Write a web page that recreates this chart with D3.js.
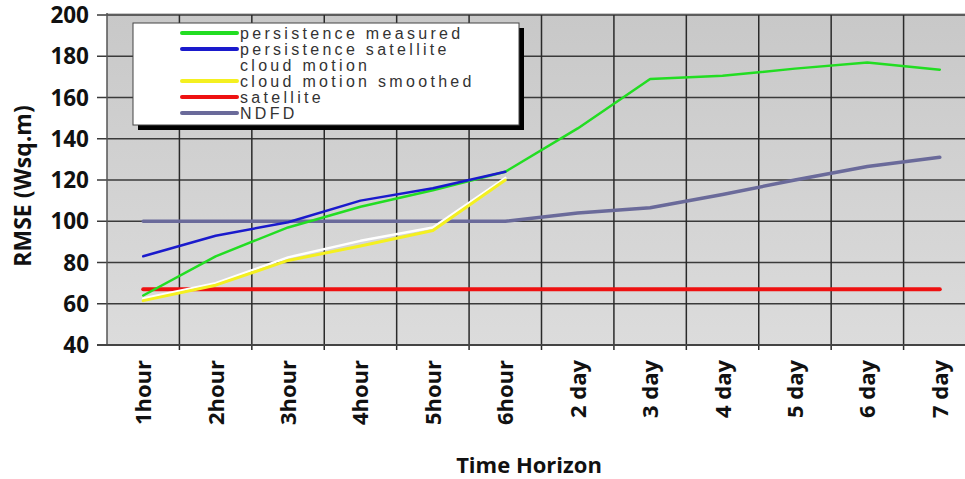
<!DOCTYPE html>
<html>
<head>
<meta charset="utf-8">
<script src="https://cdn.jsdelivr.net/npm/d3@7/dist/d3.min.js"></script>
<style>
  body { margin: 0; background: #fff; }
  svg { display: block; }
</style>
</head>
<body>
<script>
/* -----------------------------------------------------
 *  Data
 ----------------------------------------------------- */
const horizons = ["1hour", "2hour", "3hour", "4hour", "5hour", "6hour",
  "2 day", "3 day", "4 day", "5 day", "6 day", "7 day"];
const yTicks = [40, 60, 80, 100, 120, 140, 160, 180, 200];

const persistenceMeasured = [64, 83, 97, 107, 115, 124, 145, 169, 170.5, 174, 177, 173.5];
const persistenceSatellite = [83, 93, 99.5, 110, 116, 124];
const cloudMotion = [62.5, 70, 82.5, 90.5, 97, 121];
const cloudMotionSmoothed = [61.5, 69, 81, 88, 95.5, 120];
const satellite = [67, 67, 67, 67, 67, 67, 67, 67, 67, 67, 67, 67];
const ndfd = [100, 100, 100, 100, 100, 100, 104, 106.5, 113, 120, 126.5, 131];

const series = [
  { name: "persistence measured", values: persistenceMeasured, color: "#22dd22", width: 2.5 },
  { name: "persistence satellite", values: persistenceSatellite, color: "#1a1acc", width: 2.5 },
  { name: "cloud motion", values: cloudMotion, color: "#ffffff", width: 2.5 },
  { name: "cloud motion smoothed", values: cloudMotionSmoothed, color: "#f4f020", width: 3 },
  { name: "satellite", values: satellite, color: "#ee1111", width: 4 },
  { name: "NDFD", values: ndfd, color: "#6a6a9a", width: 3.5 }
];
// drawing order (back to front)
const drawOrder = ["NDFD", "satellite", "cloud motion", "cloud motion smoothed",
  "persistence measured", "persistence satellite"];

/* -----------------------------------------------------
 *  SVG setup
 ----------------------------------------------------- */
const width = 965;
const height = 479;
const margin = { top: 15, right: -11, bottom: 134, left: 107 };

const svg = d3.select("body").append("svg")
  .attr("width", width)
  .attr("height", height);

const x = d3.scaleBand()
  .domain(horizons)
  .range([margin.left, width - margin.right]);

const y = d3.scaleLinear()
  .domain([40, 200])
  .range([height - margin.bottom, margin.top]);

const defs = svg.append("defs");
const grad = defs.append("linearGradient")
  .attr("id", "bg").attr("x1", 0).attr("y1", 0).attr("x2", 0).attr("y2", 1);
grad.append("stop").attr("offset", "0%").attr("stop-color", "#c8c8c8");
grad.append("stop").attr("offset", "100%").attr("stop-color", "#dcdcdc");

// plot background
svg.append("rect")
  .attr("x", x.range()[0])
  .attr("y", y(200) - 2)
  .attr("width", x.range()[1] - x.range()[0])
  .attr("height", y(40) - y(200) + 2)
  .attr("fill", "url(#bg)");

/* -----------------------------------------------------
 *  Grid + axes
 ----------------------------------------------------- */
svg.append("g")
  .selectAll("line")
  .data(yTicks)
  .join("line")
  .attr("x1", x.range()[0] - 10)
  .attr("x2", x.range()[1])
  .attr("y1", (d) => y(d))
  .attr("y2", (d) => y(d))
  .attr("stroke", "#3a3a3a")
  .attr("stroke-width", 1.5);

// vertical grid at band boundaries
svg.append("g")
  .selectAll("line")
  .data(horizons.slice(1))
  .join("line")
  .attr("x1", (d) => x(d))
  .attr("x2", (d) => x(d))
  .attr("y1", y(200))
  .attr("y2", y(40) + 5)
  .attr("stroke", "#2a2a2a")
  .attr("stroke-width", 1.5);

// left axis line
svg.append("line")
  .attr("x1", x.range()[0]).attr("x2", x.range()[0])
  .attr("y1", y(200) - 2).attr("y2", y(40))
  .attr("stroke", "#555").attr("stroke-width", 1.5);

// bottom axis line
svg.append("line")
  .attr("x1", x.range()[0] - 10).attr("x2", x.range()[1])
  .attr("y1", y(40)).attr("y2", y(40))
  .attr("stroke", "#444").attr("stroke-width", 2);

// y tick labels
svg.append("g")
  .selectAll("text")
  .data(yTicks)
  .join("text")
  .attr("x", 89)
  .attr("y", (d) => y(d))
  .attr("dy", "0.36em")
  .attr("text-anchor", "end")
  .style("font-family", "Open Sans")
  .style("font-weight", "bold")
  .style("font-size", "22.5px")
  .attr("fill", "#111")
  .text((d) => d);

// x tick labels (rotated)
svg.append("g")
  .selectAll("text")
  .data(horizons)
  .join("text")
  .attr("transform", (d) => `translate(${x(d) + x.bandwidth() / 2 + 8},360) rotate(-90)`)
  .attr("text-anchor", "end")
  .style("font-family", "Open Sans")
  .style("font-weight", "bold")
  .style("font-size", "22px")
  .attr("fill", "#111")
  .text((d) => d);

// axis titles
svg.append("text")
  .attr("x", 529)
  .attr("y", 473)
  .attr("text-anchor", "middle")
  .style("font-family", "Open Sans")
  .style("font-weight", "bold")
  .style("font-size", "22px")
  .attr("fill", "#111")
  .text("Time Horizon");

svg.append("text")
  .attr("transform", "translate(31,186) rotate(-90)")
  .attr("text-anchor", "middle")
  .style("font-family", "Open Sans")
  .style("font-weight", "bold")
  .style("font-size", "23px")
  .attr("fill", "#111")
  .text("RMSE (Wsq.m)");

/* -----------------------------------------------------
 *  Lines
 ----------------------------------------------------- */
const line = d3.line()
  .x((d, i) => x(horizons[i]) + x.bandwidth() / 2)
  .y((d) => y(d));

drawOrder.forEach((name) => {
  const s = series.find((d) => d.name === name);
  svg.append("path")
    .datum(s.values)
    .attr("fill", "none")
    .attr("stroke", s.color)
    .attr("stroke-width", s.width)
    .attr("stroke-linejoin", "round")
    .attr("stroke-linecap", "round")
    .attr("d", line);
});

/* -----------------------------------------------------
 *  Legend
 ----------------------------------------------------- */
const legend = svg.append("g").attr("transform", "translate(133,23)");
legend.append("rect")
  .attr("x", 5).attr("y", 5)
  .attr("width", 386).attr("height", 102)
  .attr("fill", "#000");
legend.append("rect")
  .attr("width", 386).attr("height", 102)
  .attr("fill", "#fff")
  .attr("stroke", "#444")
  .attr("stroke-width", 1);

series.forEach((s, i) => {
  const ly = 10 + i * 16;
  legend.append("line")
    .attr("x1", 49).attr("x2", 104)
    .attr("y1", ly).attr("y2", ly)
    .attr("stroke", s.color)
    .attr("stroke-width", 4)
    .attr("stroke-linecap", "round");
  legend.append("text")
    .attr("x", 107)
    .attr("y", ly)
    .attr("dy", "0.36em")
    .style("font-family", "Liberation Sans")
    .style("font-size", "16px")
    .style("letter-spacing", "3.3px")
    .attr("fill", "#333")
    .text(s.name);
});
</script>
</body>
</html>
